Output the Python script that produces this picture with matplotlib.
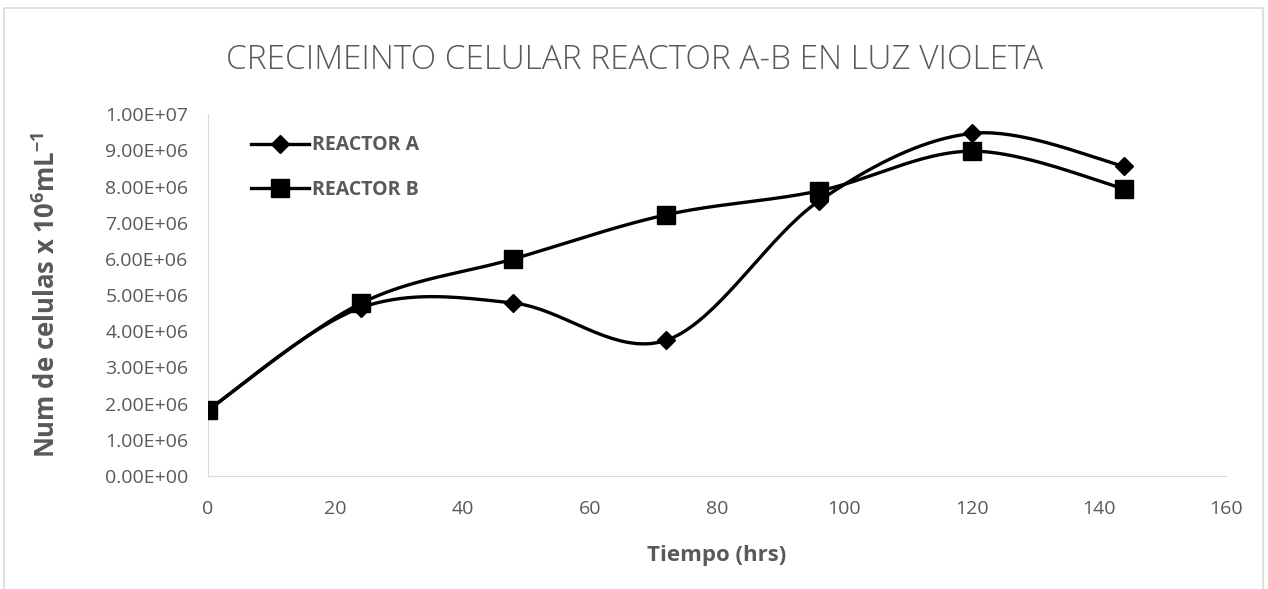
import numpy as np
import matplotlib.pyplot as plt
from matplotlib.patches import Rectangle

tiempo = [0, 24, 48, 72, 96, 120, 144]
reactor_a = [1.82e6, 4.65e6, 4.78e6, 3.75e6, 7.6e6, 9.47e6, 8.56e6]
reactor_b = [1.82e6, 4.77e6, 6.0e6, 7.22e6, 7.88e6, 8.98e6, 7.94e6]
x_ticks = [0, 20, 40, 60, 80, 100, 120, 140, 160]
y_ticks = [0, 1e6, 2e6, 3e6, 4e6, 5e6, 6e6, 7e6, 8e6, 9e6, 1e7]

GRAY = "#595959"

plt.rcParams["mathtext.fontset"] = "custom"
plt.rcParams["mathtext.rm"] = "Open Sans:bold"
plt.rcParams["mathtext.it"] = "Open Sans:bold"
plt.rcParams["mathtext.bf"] = "Open Sans:bold"


def smooth(x, y, n=40):
    # excel style smoothed line (catmull-rom through the points)
    x = np.asarray(x, float)
    y = np.asarray(y, float)
    px = np.concatenate([[x[0]], x, [x[-1]]])
    py = np.concatenate([[y[0]], y, [y[-1]]])
    xs, ys = [], []
    t = np.linspace(0, 1, n)
    for i in range(1, len(px) - 2):
        p0, p1, p2, p3 = px[i - 1], px[i], px[i + 1], px[i + 2]
        q0, q1, q2, q3 = py[i - 1], py[i], py[i + 1], py[i + 2]
        c1x, c1y = p1 + (p2 - p0) / 6, q1 + (q2 - q0) / 6
        c2x, c2y = p2 - (p3 - p1) / 6, q2 - (q3 - q1) / 6
        bx = (1 - t) ** 3 * p1 + 3 * (1 - t) ** 2 * t * c1x + 3 * (1 - t) * t ** 2 * c2x + t ** 3 * p2
        by = (1 - t) ** 3 * q1 + 3 * (1 - t) ** 2 * t * c1y + 3 * (1 - t) * t ** 2 * c2y + t ** 3 * q2
        xs.extend(bx)
        ys.extend(by)
    return xs, ys


fig = plt.figure(figsize=(12.68, 5.89), dpi=100)
ax = fig.add_axes([0.164, 0.192, 0.803, 0.614])

fig.patches.append(Rectangle((0.003, -0.01), 0.993, 0.996, transform=fig.transFigure,
                             fill=False, edgecolor="#d9d9d9", linewidth=1.2))

xa, ya = smooth(tiempo, reactor_a)
xb, yb = smooth(tiempo, reactor_b)
ax.plot(xa, ya, color="black", linewidth=2.4, zorder=3)
ax.plot(xb, yb, color="black", linewidth=2.4, zorder=3)
ax.plot(tiempo, reactor_a, linestyle="none", marker="D", markersize=9.5, color="black", zorder=4)
ax.plot(tiempo, reactor_b, linestyle="none", marker="s", markersize=13, color="black", zorder=4)

# legend handles
ax.plot([], [], color="black", linewidth=2.4, marker="D", markersize=9.5, label="REACTOR A")
ax.plot([], [], color="black", linewidth=2.4, marker="s", markersize=13, label="REACTOR B")
leg = ax.legend(loc="upper left", bbox_to_anchor=(0.025, 0.99), frameon=False,
                handlelength=3.0, handletextpad=0.15, labelspacing=1.25,
                prop={"family": "Open Sans", "weight": "bold", "size": 14})
for t in leg.get_texts():
    t.set_color(GRAY)

ax.set_xlim(0, 160)
ax.set_ylim(0, 1e7)
ax.set_xticks(x_ticks)
ax.set_yticks(y_ticks)
ax.set_yticklabels(["%.2E" % v for v in y_ticks])
ax.tick_params(length=0, labelsize=14, labelcolor=GRAY)
ax.tick_params(axis="x", pad=17)
ax.tick_params(axis="y", pad=14)
for lab in ax.get_xticklabels() + ax.get_yticklabels():
    lab.set_family("Open Sans")

for s in ["top", "right"]:
    ax.spines[s].set_visible(False)
ax.spines["left"].set_color("#d9d9d9")
ax.spines["bottom"].set_color("#d9d9d9")

ax.set_xlabel("Tiempo (hrs)", fontsize=16, fontweight="bold", color=GRAY,
              family="Open Sans", labelpad=20)
ax.set_ylabel("Num de celulas x 10$^{6}$mL$^{-1}$", fontsize=18.5, fontweight="bold",
              color=GRAY, family="Open Sans", labelpad=32)
fig.text(0.5, 0.898, "CRECIMEINTO CELULAR REACTOR A-B EN LUZ VIOLETA", ha="center",
         va="center", fontsize=24, color=GRAY, family="Open Sans", fontweight="light")

fig.savefig("out.png", dpi=100)
